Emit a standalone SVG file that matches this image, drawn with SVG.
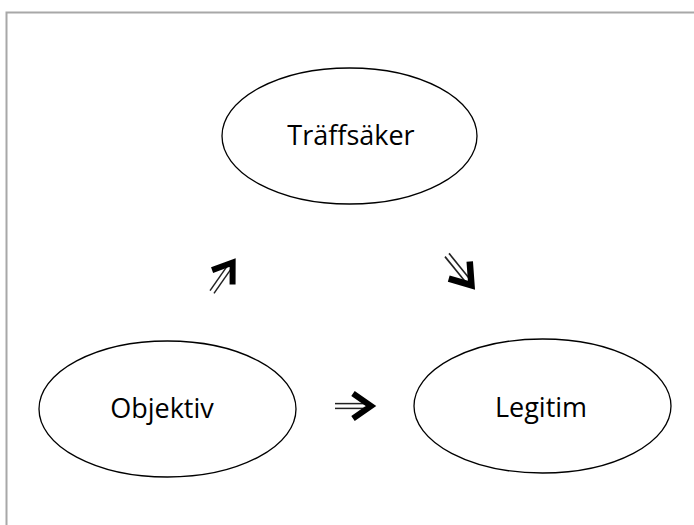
<svg xmlns="http://www.w3.org/2000/svg" xmlns:xlink="http://www.w3.org/1999/xlink" width="694" height="525" viewBox="0 0 694 525">
<style>
.node ellipse{fill:#fff;stroke:#000;stroke-width:1.3}
.node text{font-family:"Open Sans","Noto Sans","Liberation Sans",sans-serif;font-size:27px;fill:#000;text-anchor:middle}
.shaft{stroke:#222;stroke-width:1.5;fill:none}
.head{stroke:#000;stroke-width:6;fill:none;stroke-linejoin:miter;stroke-linecap:butt}
</style>
<defs>
<g id="arr">
<line class="shaft" x1="0" y1="-2.4" x2="32" y2="-2.4"/>
<line class="shaft" x1="0" y1="2.4" x2="32" y2="2.4"/>
<polyline class="head" points="18,-12.5 36,0 18,12.5"/>
</g>
</defs>
<rect width="694" height="525" fill="#fff"/>
<path d="M6.5,525 V12.5 H694" fill="none" stroke="#a8a8a8" stroke-width="2"/>
<g id="connectors">
<use xlink:href="#arr" transform="translate(212,292) rotate(-55)"/>
<use xlink:href="#arr" transform="translate(447,255) rotate(51) scale(1.08)"/>
<use xlink:href="#arr" transform="translate(335,406)"/>
</g>
<g id="n-traffsaker" class="node">
<ellipse cx="349.5" cy="136" rx="127.5" ry="68"/>
<text x="351" y="145">Träffsäker</text>
</g>
<g id="n-objektiv" class="node">
<ellipse cx="167.5" cy="409" rx="128.5" ry="68"/>
<text x="162" y="418">Objektiv</text>
</g>
<g id="n-legitim" class="node">
<ellipse cx="542.5" cy="406" rx="128.5" ry="67"/>
<text x="541" y="417">Legitim</text>
</g>
</svg>
